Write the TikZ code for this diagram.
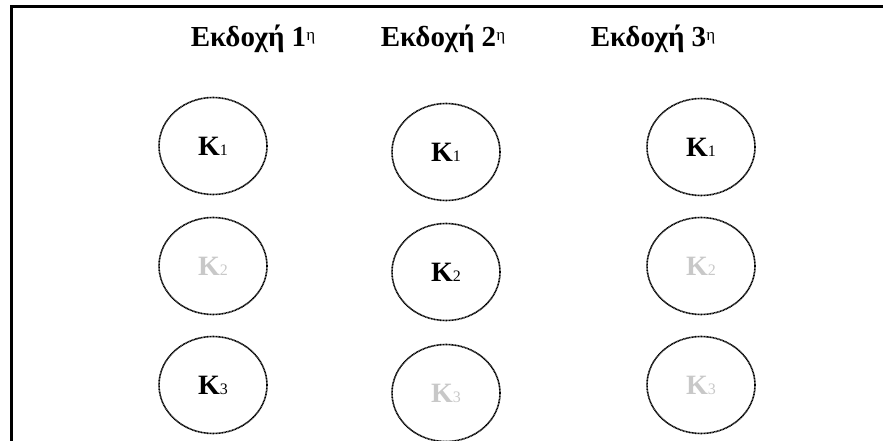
\documentclass[tikz,border=0pt]{standalone}
\usepackage{fontspec}
\setmainfont{Liberation Serif}
\usetikzlibrary{shapes.geometric}
\definecolor{fadedtxt}{RGB}{200,200,200}
\tikzset{
  oval/.style={ellipse, draw=black, line width=1.6pt,
    dash pattern=on 1pt off 0.5pt, minimum width=108pt, minimum height=97pt,
    inner sep=0pt, font=\bfseries\fontsize{28}{30}\selectfont},
  faded/.style={text=fadedtxt},
  heading/.style={anchor=base, inner sep=0pt, font=\bfseries\fontsize{29}{32}\selectfont},
  frameline/.style={line width=3pt}
}
\newcommand{\kx}[1]{K{\mdseries\fontsize{16}{18}\selectfont #1}}
\newcommand{\sufx}{{\mdseries\fontsize{17}{18}\selectfont\raisebox{6pt}{η}}}
\begin{document}
\begin{tikzpicture}[x=1pt,y=-1pt]
  \useasboundingbox (0,0) rectangle (883,441);
  % open frame: left side and top
  \coordinate (fl) at (11,441);
  \coordinate (ftl) at (11,7);
  \coordinate (ftr) at (883,7);
  \draw[frameline] (fl) -- (ftl) -- (ftr);
  % column headings
  \node[heading] (h1) at (253,47) {Εκδοχή 1\sufx};
  \node[heading] (h2) at (443,47) {Εκδοχή 2\sufx};
  \node[heading] (h3) at (653,47) {Εκδοχή 3\sufx};
  % first version
  \node[oval] (c11) at (213,146) {\kx{1}};
  \node[oval,faded] (c12) at (213,266) {\kx{2}};
  \node[oval] (c13) at (213,385) {\kx{3}};
  % second version
  \node[oval] (c21) at (446,152) {\kx{1}};
  \node[oval] (c22) at (446,272) {\kx{2}};
  \node[oval,faded] (c23) at (446,393) {\kx{3}};
  % third version
  \node[oval] (c31) at (701,147) {\kx{1}};
  \node[oval,faded] (c32) at (701,266) {\kx{2}};
  \node[oval,faded] (c33) at (701,385) {\kx{3}};
\end{tikzpicture}
\end{document}
